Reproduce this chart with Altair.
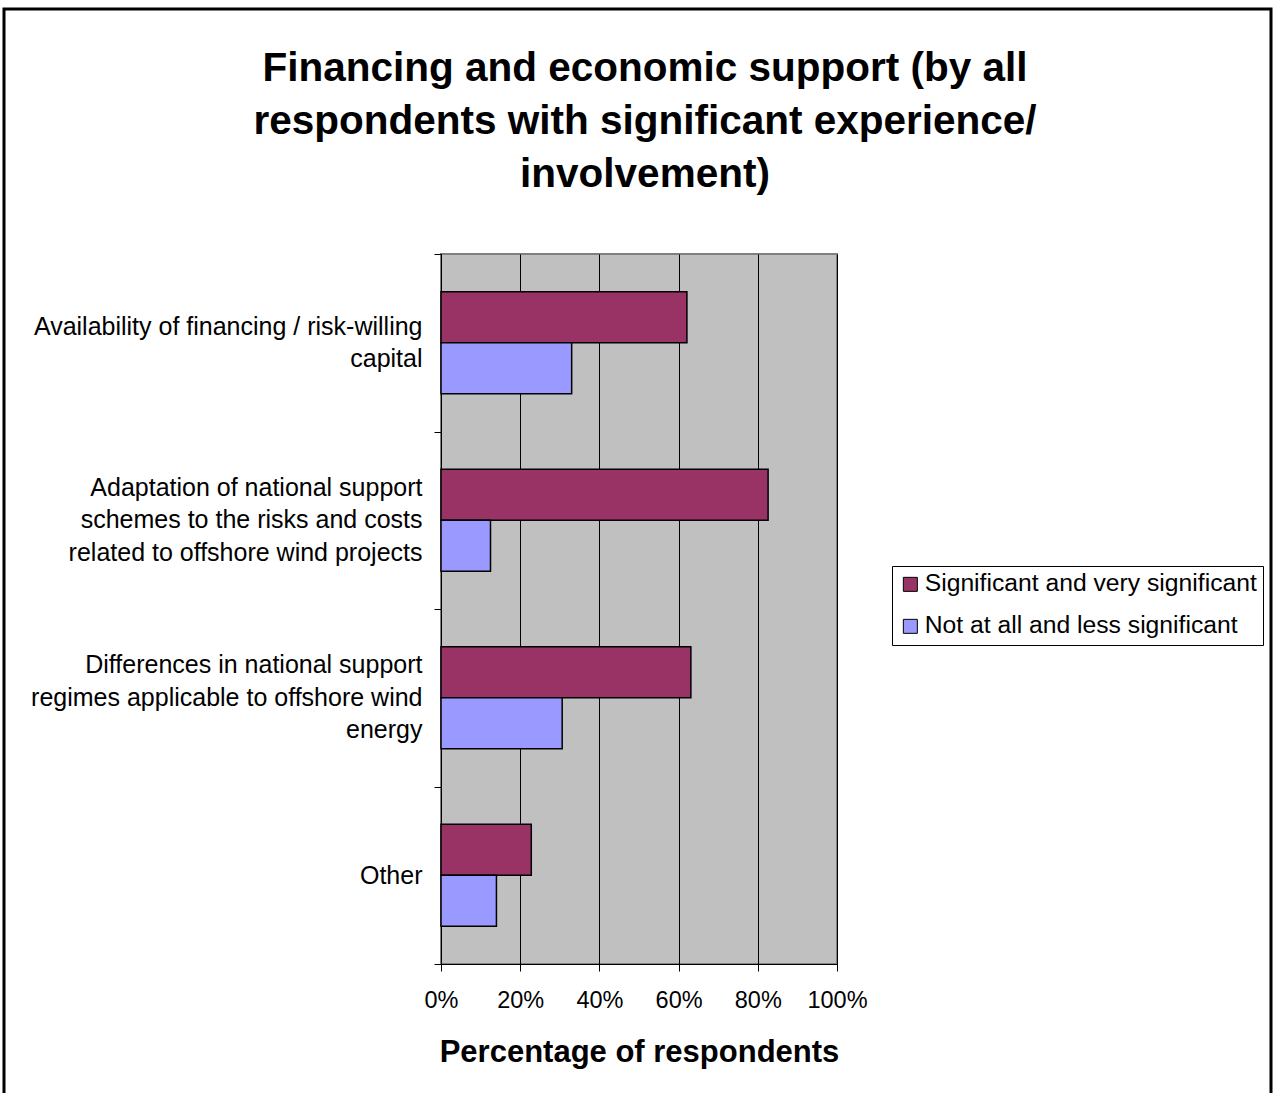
import altair as alt
import pandas as pd

categories = [
    "Availability of financing / risk-willing|capital",
    "Adaptation of national support|schemes to the risks and costs|related to offshore wind projects",
    "Differences in national support|regimes applicable to offshore wind|energy",
    "Other",
]
series = ["Significant and very significant", "Not at all and less significant"]
significant = [0.621, 0.826, 0.631, 0.228]
not_significant = [0.330, 0.125, 0.306, 0.140]
colors = ["#993366", "#9999FF"]
x_ticks = [0, 0.2, 0.4, 0.6, 0.8, 1.0]

rows = []
for c, a, b in zip(categories, significant, not_significant):
    rows.append({"category": c, "series": series[0], "value": a})
    rows.append({"category": c, "series": series[1], "value": b})
df = pd.DataFrame(rows)

W, H = 396, 710
PL, PT = 441, 254
PR, PB = 1274 - PL - W, 1093 - PT - H

label_offset = {
    "condition": [
        {"test": "length(split(datum.value, '|')) == 3", "value": -33},
        {"test": "length(split(datum.value, '|')) == 2", "value": -16.5},
    ],
    "value": 0,
}

bars = alt.Chart(df).mark_bar(stroke="black", strokeWidth=1.5).encode(
    x=alt.X(
        "value:Q",
        scale=alt.Scale(domain=[0, 1], nice=False),
        axis=alt.Axis(
            values=x_ticks,
            format=".0%",
            title="Percentage of respondents",
            titleFontSize=31,
            titleFontWeight="bold",
            titleFont="Liberation Sans",
            titleColor="black",
            titlePadding=26,
            labelFontSize=23.5,
            labelFont="Liberation Sans",
            labelColor="black",
            labelPadding=17,
            labelFlush=False,
            labelOverlap=False,
            tickSize=7,
            tickColor="black",
            domainColor="black",
            grid=True,
            gridColor="black",
            gridWidth=1,
        ),
    ),
    y=alt.Y(
        "category:N",
        sort=categories,
        scale=alt.Scale(paddingInner=0, paddingOuter=0),
        axis=alt.Axis(
            title=None,
            labelExpr="split(datum.label, '|')",
            labelFontSize=25,
            labelFont="Liberation Sans",
            labelColor="black",
            labelLineHeight=32.5,
            labelPadding=12,
            labelLimit=500,
            labelOffset=label_offset,
            tickBand="extent",
            tickSize=7,
            tickColor="black",
            domainColor="black",
            grid=False,
        ),
    ),
    yOffset=alt.YOffset(
        "series:N", sort=series, scale=alt.Scale(paddingInner=0, paddingOuter=0.74)
    ),
    color=alt.Color(
        "series:N",
        sort=series,
        scale=alt.Scale(domain=series, range=colors),
        legend=alt.Legend(
            title=None,
            orient="none",
            legendX=451,
            legendY=312,
            strokeColor="black",
            fillColor="white",
            padding=6,
            symbolType="square",
            symbolSize=196,
            symbolStrokeColor="black",
            symbolStrokeWidth=1,
            symbolOpacity=1,
            labelFontSize=24.7,
            labelFont="Liberation Sans",
            labelColor="black",
            labelOffset=2,
            labelLimit=500,
            rowPadding=16,
        ),
    ),
)

frame = alt.Chart(pd.DataFrame({"f": [0]})).mark_rect(
    filled=False, stroke="black", strokeWidth=3, clip=False
).encode(
    x=alt.value(4 - PL),
    x2=alt.value(1271 - PL),
    y=alt.value(9 - PT),
    y2=alt.value(1200 - PT),
)

chart = alt.layer(bars, frame).properties(
    width=W,
    height=H,
    title=alt.TitleParams(
        text=[
            "Financing and economic support (by all",
            "respondents with significant experience/",
            "involvement)",
        ],
        fontSize=40.5,
        font="Liberation Sans",
        fontWeight="bold",
        color="black",
        lineHeight=53,
        anchor="middle",
        dx=6,
        offset=-187.5,
    ),
    autosize=alt.AutoSizeParams(type="none"),
    padding={"left": PL, "top": PT, "right": PR, "bottom": PB},
    background="white",
).configure_view(
    fill="#C0C0C0", stroke="#808080", strokeWidth=2
)

chart.save("out.html", embed_options={"renderer": "svg", "actions": False})
